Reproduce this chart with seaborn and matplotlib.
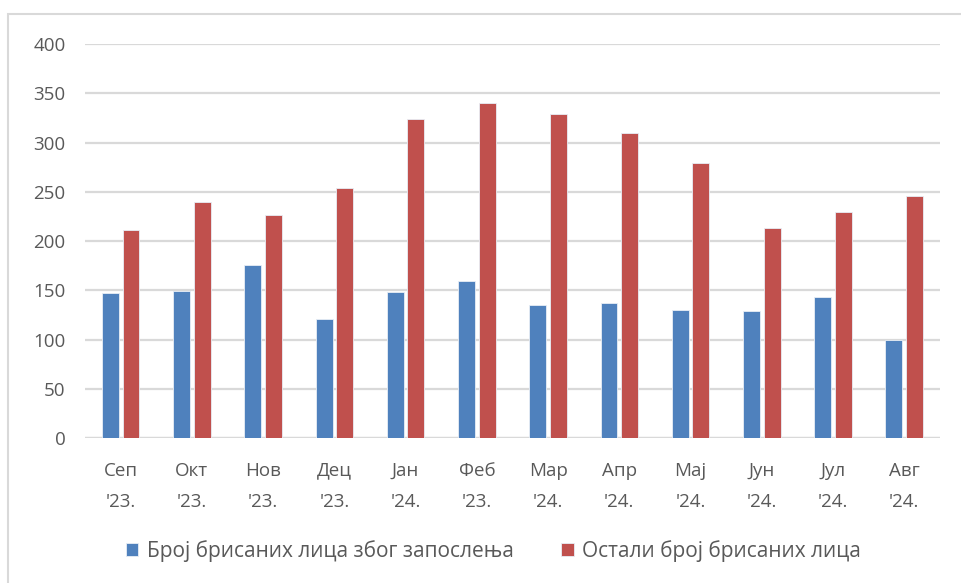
import pandas as pd
import matplotlib.pyplot as plt
import seaborn as sns
from matplotlib.patches import Rectangle

sns.set_theme(style="white")
plt.rcParams['font.family'] = ['Open Sans', 'DejaVu Sans']

meseci = ["Сеп\n'23.", "Окт\n'23.", "Нов\n'23.", "Дец\n'23.", "Јан\n'24.", "Феб\n'23.",
          "Мар\n'24.", "Апр\n'24.", "Мај\n'24.", "Јун\n'24.", "Јул\n'24.", "Авг\n'24."]
zaposlenje = [147, 149, 176, 121, 148, 159, 135, 137, 130, 129, 143, 100]
ostali = [211, 240, 226, 254, 324, 340, 329, 310, 279, 213, 229, 246]
serije = ["Број брисаних лица због запослења", "Остали број брисаних лица"]
boje = ["#4F81BD", "#C0504D"]

df = pd.DataFrame({
    "mesec": meseci * 2,
    "vrednost": zaposlenje + ostali,
    "serija": [serije[0]] * len(meseci) + [serije[1]] * len(meseci),
})

siva = "#595959"
fig = plt.figure(figsize=(9.62, 5.83), dpi=100)
ax = fig.add_axes([0.0884, 0.2487, 0.8886, 0.6758])

sns.barplot(data=df, x="mesec", y="vrednost", hue="serija", palette=boje,
            saturation=1, width=0.58, gap=0.18, edgecolor="#E8EEF6",
            linewidth=0.6, ax=ax, zorder=3)

ax.set_ylim(0, 400)
ax.set_xlim(-0.5, len(meseci) - 0.5)
ax.set_yticks(range(0, 401, 50))
ax.yaxis.grid(True, color="#D9D9D9", linewidth=1.6, zorder=0)
ax.set_axisbelow(True)
for s in ax.spines.values():
    s.set_visible(False)
ax.axhline(0, color="#D9D9D9", linewidth=1.6, zorder=1)
ax.set_xlabel("")
ax.set_ylabel("")
ax.tick_params(axis="y", length=0, pad=14, labelsize=13.5, labelcolor=siva)
ax.tick_params(axis="x", length=0, pad=17, labelsize=13.5, labelcolor=siva)
for t in ax.get_xticklabels():
    t.set_linespacing(1.95)

ax.legend_.remove()
handles, labels = ax.get_legend_handles_labels()
fig.legend(handles, labels, loc="center", bbox_to_anchor=(0.513, 0.055), ncol=2,
           frameon=False, fontsize=15, labelcolor=siva, handlelength=0.6,
           handleheight=0.6, handletextpad=0.4, columnspacing=2.3)

fig.patches.append(Rectangle((8 / 962, -0.01), 1.0, 1 - 14 / 583 + 0.01,
                             transform=fig.transFigure, fill=False,
                             edgecolor="#D9D9D9", linewidth=1.5))

fig.savefig("out.png", dpi=100)
